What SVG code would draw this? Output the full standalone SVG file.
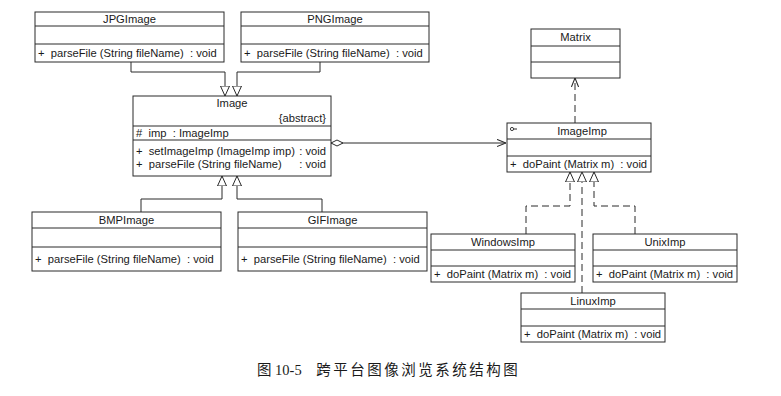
<svg xmlns="http://www.w3.org/2000/svg" width="781" height="396" viewBox="0 0 781 396">
  <style>
    .box { fill: #fff; stroke: #2a2a2a; stroke-width: 1; }
    .div { stroke: #2a2a2a; stroke-width: 1; }
    .t { font-family: "Liberation Sans", Arial, sans-serif; font-size: 11.2px; fill: #1a1a1a; }
    .c { text-anchor: middle; }
    .e { text-anchor: end; }
    .ln { fill: none; stroke: #2a2a2a; stroke-width: 1; }
    .dash { stroke-dasharray: 7 4; }
    .cap { font-family: "Liberation Serif", "Noto Sans CJK SC", serif; font-size: 14.5px; fill: #1a1a1a; }
  </style>
  <defs>
    <marker id="tri" viewBox="0 0 10 10" refX="10" refY="5" markerWidth="10" markerHeight="10" markerUnits="userSpaceOnUse" orient="auto">
      <path d="M0,0.5 L10,5 L0,9.5 Z" fill="#fff" stroke="#2a2a2a" stroke-width="1"/>
    </marker>
    <marker id="open" viewBox="0 0 10 10" refX="10" refY="5" markerWidth="9" markerHeight="9" markerUnits="userSpaceOnUse" orient="auto">
      <path d="M0,1 L10,5 L0,9" fill="none" stroke="#2a2a2a" stroke-width="1.2"/>
    </marker>
    <marker id="dia" viewBox="0 0 12 8" refX="0" refY="4" markerWidth="12" markerHeight="8" markerUnits="userSpaceOnUse" orient="auto">
      <path d="M0,4 L6,1 L12,4 L6,7 Z" fill="#fff" stroke="#2a2a2a" stroke-width="1"/>
    </marker>
  </defs>
  <rect width="781" height="396" fill="#fff"/>

  <!-- connectors -->
  <g id="connectors">
    <polyline class="ln" points="131,62 131,72 225,72 225,96" marker-end="url(#tri)"/>
    <polyline class="ln" points="320,62 320,72 237,72 237,96" marker-end="url(#tri)"/>
    <polyline class="ln" points="141,212 141,199 222,199 222,176" marker-end="url(#tri)"/>
    <polyline class="ln" points="322,212 322,199 237,199 237,176" marker-end="url(#tri)"/>
    <line class="ln" x1="331" y1="143" x2="506" y2="143" marker-start="url(#dia)" marker-end="url(#open)"/>
    <line class="ln dash" x1="575" y1="123" x2="575" y2="78" marker-end="url(#open)"/>
    <polyline class="ln dash" points="526,234 526,206 570,206 570,172" marker-end="url(#tri)"/>
    <polyline class="ln dash" points="582,293 582,172" marker-end="url(#tri)"/>
    <polyline class="ln dash" points="635,234 635,206 594,206 594,172" marker-end="url(#tri)"/>
  </g>

  <g id="JPGImage">
    <rect class="box" x="35" y="12" width="189" height="50"/>
    <line class="div" x1="35" y1="26" x2="224" y2="26"/>
    <line class="div" x1="35" y1="44" x2="224" y2="44"/>
    <text class="t c" x="129.5" y="23">JPGImage</text>
    <text class="t" x="38" y="57" xml:space="preserve">+  parseFile (String fileName)  : void</text>
  </g>

  <g id="PNGImage">
    <rect class="box" x="241" y="12" width="188" height="50"/>
    <line class="div" x1="241" y1="26" x2="429" y2="26"/>
    <line class="div" x1="241" y1="44" x2="429" y2="44"/>
    <text class="t c" x="335" y="23">PNGImage</text>
    <text class="t" x="244" y="57" xml:space="preserve">+  parseFile (String fileName)  : void</text>
  </g>

  <g id="Image">
    <rect class="box" x="133" y="96" width="198" height="80"/>
    <line class="div" x1="133" y1="126" x2="331" y2="126"/>
    <line class="div" x1="133" y1="140" x2="331" y2="140"/>
    <text class="t c" x="232" y="107">Image</text>
    <text class="t e" x="326" y="122">{abstract}</text>
    <text class="t" x="136" y="137" xml:space="preserve">#  imp  : ImageImp</text>
    <text class="t" x="136" y="155" xml:space="preserve">+  setImageImp (ImageImp imp)</text>
    <text class="t e" x="326" y="155">: void</text>
    <text class="t" x="136" y="168" xml:space="preserve">+  parseFile (String fileName)</text>
    <text class="t e" x="326" y="168">: void</text>
  </g>

  <g id="BMPImage">
    <rect class="box" x="32" y="212" width="189" height="59"/>
    <line class="div" x1="32" y1="228" x2="221" y2="228"/>
    <line class="div" x1="32" y1="247" x2="221" y2="247"/>
    <text class="t c" x="126.5" y="224">BMPImage</text>
    <text class="t" x="35" y="263" xml:space="preserve">+  parseFile (String fileName)  : void</text>
  </g>

  <g id="GIFImage">
    <rect class="box" x="238" y="212" width="189" height="59"/>
    <line class="div" x1="238" y1="228" x2="427" y2="228"/>
    <line class="div" x1="238" y1="247" x2="427" y2="247"/>
    <text class="t c" x="332.5" y="224">GIFImage</text>
    <text class="t" x="241" y="263" xml:space="preserve">+  parseFile (String fileName)  : void</text>
  </g>

  <g id="Matrix">
    <rect class="box" x="531" y="29" width="89" height="49"/>
    <line class="div" x1="531" y1="46" x2="620" y2="46"/>
    <line class="div" x1="531" y1="62" x2="620" y2="62"/>
    <text class="t c" x="575.5" y="41">Matrix</text>
  </g>

  <g id="ImageImp">
    <rect class="box" x="507" y="123" width="144" height="49"/>
    <line class="div" x1="507" y1="139" x2="651" y2="139"/>
    <line class="div" x1="507" y1="156" x2="651" y2="156"/>
    <circle cx="512" cy="129" r="1.6" fill="none" stroke="#2a2a2a" stroke-width="0.9"/>
    <line class="div" x1="513.6" y1="129" x2="517" y2="129"/>
    <text class="t c" x="582" y="135">ImageImp</text>
    <text class="t" x="510" y="168" xml:space="preserve">+  doPaint (Matrix m)  : void</text>
  </g>

  <g id="WindowsImp">
    <rect class="box" x="431" y="234" width="144" height="48"/>
    <line class="div" x1="431" y1="250" x2="575" y2="250"/>
    <line class="div" x1="431" y1="266" x2="575" y2="266"/>
    <text class="t c" x="503" y="246">WindowsImp</text>
    <text class="t" x="434" y="278" xml:space="preserve">+  doPaint (Matrix m)  : void</text>
  </g>

  <g id="UnixImp">
    <rect class="box" x="593" y="234" width="144" height="48"/>
    <line class="div" x1="593" y1="250" x2="737" y2="250"/>
    <line class="div" x1="593" y1="266" x2="737" y2="266"/>
    <text class="t c" x="665" y="246">UnixImp</text>
    <text class="t" x="596" y="278" xml:space="preserve">+  doPaint (Matrix m)  : void</text>
  </g>

  <g id="LinuxImp">
    <rect class="box" x="521" y="293" width="144" height="49"/>
    <line class="div" x1="521" y1="309" x2="665" y2="309"/>
    <line class="div" x1="521" y1="326" x2="665" y2="326"/>
    <text class="t c" x="593" y="305">LinuxImp</text>
    <text class="t" x="524" y="338" xml:space="preserve">+  doPaint (Matrix m)  : void</text>
  </g>

  <text class="cap" x="257" y="375" xml:space="preserve">图 10-5    <tspan letter-spacing="2.5">跨平台图像浏览系统结构图</tspan></text>
</svg>
